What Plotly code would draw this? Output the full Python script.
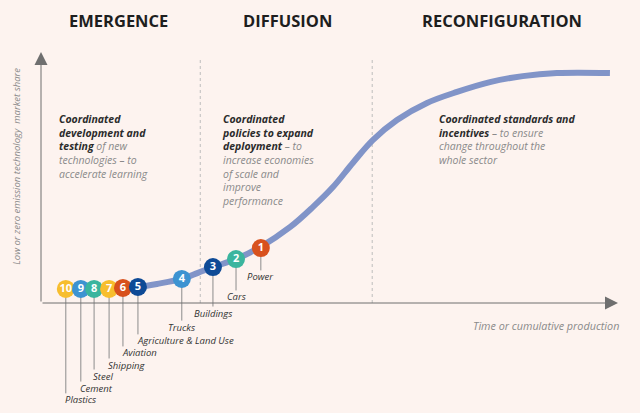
import plotly.graph_objects as go

# S-curve of low/zero emission technology market share (x: time, y: share, 0-100)
curve_x = [4.3, 9.4, 14.2, 16.8, 20.1, 24.4, 27.2, 29.8, 33.8, 38.0, 43.2, 47.1,
           50.6, 54.1, 57.5, 61.7, 66.9, 72.1, 77.8, 83.5, 89.4, 98.6]
curve_y = [5.6, 5.6, 6.0, 6.4, 7.6, 9.6, 12.0, 14.3, 17.5, 22.3, 30.3, 38.2,
           46.2, 56.0, 64.9, 72.9, 79.7, 84.1, 88.0, 90.4, 91.6, 91.6]

# sectors placed along the curve
ranks = [1, 2, 3, 4, 5, 6, 7, 8, 9, 10]
sectors = ["Power", "Cars", "Buildings", "Trucks", "Agriculture & Land Use",
           "Aviation", "Shipping", "Steel", "Cement", "Plastics"]
dot_x = [38.1, 33.8, 29.8, 24.4, 16.8, 14.2, 11.8, 9.2, 6.9, 4.3]
dot_y = [21.9, 17.5, 14.3, 9.6, 6.4, 6.0, 5.6, 5.6, 5.6, 5.6]
label_y = [10.4, 2.4, -4.0, -9.6, -15.1, -19.9, -24.7, -29.1, -33.9, -38.6]

phases = ["EMERGENCE", "DIFFUSION", "RECONFIGURATION"]
phase_centers = [13.5, 42.8, 79.9]
phase_bounds = [27.6, 57.4]

YELLOW, BLUE, TEAL, RED, NAVY = "#F7BE2E", "#3D93D1", "#3BB59E", "#D8511D", "#0E4A96"
dot_colors = [RED, TEAL, NAVY, BLUE, NAVY, RED, YELLOW, TEAL, BLUE, YELLOW]

BG = "#FDF3EF"
DARK = "#2b2b2b"
GREY = "#8a8a8a"
AXIS = "#6f6f6f"
FONT = "Open Sans"

fig = go.Figure()

# leader lines from each dot down to its label
lx, ly = [], []
for x, y0, y1 in zip(dot_x, dot_y, label_y):
    lx += [x, x, None]
    ly += [y0, y1 + 2.6, None]
fig.add_trace(go.Scatter(x=lx, y=ly, mode="lines", line=dict(color="#8c8c8c", width=1),
                         hoverinfo="skip", showlegend=False))

fig.add_trace(go.Scatter(x=curve_x, y=curve_y, mode="lines",
                         line=dict(color="#8194C8", width=6, shape="spline", smoothing=1.0),
                         hoverinfo="skip", showlegend=False))

# dots drawn from 10 down to 1 so lower ranks sit on top
fig.add_trace(go.Scatter(
    x=dot_x[::-1], y=dot_y[::-1], mode="markers+text",
    marker=dict(size=18, color=dot_colors[::-1], line=dict(width=0)),
    text=[str(r) for r in ranks[::-1]], textposition="middle center",
    textfont=dict(family=FONT, size=11, color="white", weight="bold"),
    hoverinfo="skip", showlegend=False, cliponaxis=False))

ann = []
for r, name, x, y in zip(ranks, sectors, dot_x, label_y):
    ann.append(dict(x=x, y=y, text=name, showarrow=False, borderpad=0,
                    xanchor="center" if r <= 4 else "left",
                    xshift=0 if r <= 4 else -2,
                    font=dict(family=FONT, size=9.5, color="#333333", style="italic")))

for name, cx in zip(phases, phase_centers):
    ann.append(dict(x=cx, y=112.4, text=name, showarrow=False,
                    font=dict(family=FONT, size=16.5, color="#1e1e1e", weight="bold")))

def block(strong, rest):
    return "<b>" + strong + "</b>" + "<span style='color:%s'>" % GREY + rest + "</span>"

texts = [
    (2.8, block("Coordinated<br>development and<br>testing", " of new<br>technologies – to<br>accelerate learning")),
    (31.0, block("Coordinated<br>policies to expand<br>deployment", " – to<br>increase economies<br>of scale and<br>improve<br>performance")),
    (68.6, block("Coordinated standards and<br>incentives", " – to ensure<br>change throughout the<br>whole sector")),
]
for x, t in texts:
    ann.append(dict(x=x, y=76.8, text=t, showarrow=False, xanchor="left", yanchor="top",
                    align="left", font=dict(family=FONT, size=10.5, color=DARK, style="italic")))

ann.append(dict(x=-4.2, y=54.6, text="Low or zero emission technology  market share",
                textangle=-90, showarrow=False,
                font=dict(family=FONT, size=9.5, color=GREY, style="italic")))
ann.append(dict(x=100.5, y=-8.8, text="Time or cumulative production", showarrow=False,
                xanchor="right", font=dict(family=FONT, size=10.8, color=GREY, style="italic")))

# axis arrows
for tip, tail in [((0, 100), (0, 0)), ((100, 0), (0, 0))]:
    ann.append(dict(x=tip[0], y=tip[1], ax=tail[0], ay=tail[1], axref="x", ayref="y",
                    xref="x", yref="y", text="", showarrow=True, arrowhead=2,
                    arrowsize=2.6, arrowwidth=1, arrowcolor=AXIS))

shapes = [dict(type="line", x0=b, x1=b, y0=0, y1=98, xref="x", yref="y",
               line=dict(color="#bdbdbd", width=1, dash="3px,3px"), layer="below")
          for b in phase_bounds]

fig.update_layout(
    width=640, height=413,
    margin=dict(l=0, r=0, t=0, b=0),
    paper_bgcolor=BG, plot_bgcolor=BG,
    xaxis=dict(range=[-7.106, 103.81], visible=False, fixedrange=True),
    yaxis=dict(range=[-43.82, 120.72], visible=False, fixedrange=True),
    annotations=ann, shapes=shapes,
)

# drop the page's default body margin so the figure fills the window
fig.write_html("out.html", config={"displayModeBar": False},
               post_script="document.body.style.margin='0';document.body.style.background='%s';" % BG)
